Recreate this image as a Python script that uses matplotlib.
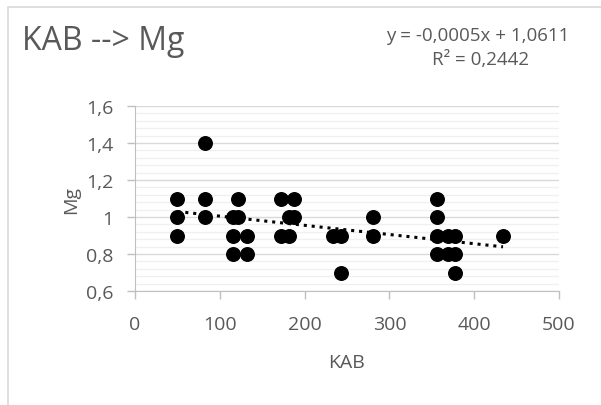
import numpy as np
import matplotlib.pyplot as plt
from matplotlib.patches import Rectangle
from matplotlib.ticker import MultipleLocator, FuncFormatter

# KAB (x) og Mg (y)
kab = [50, 50, 50, 83, 83, 83, 116, 121, 121, 116, 116, 132, 132,
       172, 172, 187, 187, 182, 182, 234, 243, 243, 281, 281,
       356, 356, 356, 356, 369, 369, 377, 377, 377, 434]
mg = [1.1, 1.0, 0.9, 1.4, 1.1, 1.0, 1.0, 1.1, 1.0, 0.9, 0.8, 0.9, 0.8,
      1.1, 0.9, 1.1, 1.0, 1.0, 0.9, 0.9, 0.9, 0.7, 1.0, 0.9,
      1.1, 1.0, 0.9, 0.8, 0.9, 0.8, 0.9, 0.8, 0.7, 0.9]
xticks = [0, 100, 200, 300, 400, 500]
yticks = [0.6, 0.8, 1.0, 1.2, 1.4, 1.6]

grey = '#595959'
plt.rcParams['font.family'] = ['Open Sans', 'DejaVu Sans']

fig = plt.figure(figsize=(6.01, 4.06), dpi=100)
ax = fig.add_axes([135/601, 1 - 292/406, 424/601, 185/406])

# ramme rundt diagrammet
fig.patches.append(Rectangle((8/601, -0.05), 1.1, 1.05 - 8/406,
                             transform=fig.transFigure, fill=False,
                             edgecolor='#d9d9d9', linewidth=1.2))

ax.scatter(kab, mg, s=95, color='black', zorder=3)

# lineær trendlinje
a, b = np.polyfit(kab, mg, 1)
xt = np.array([min(kab), max(kab)])
ax.plot(xt, a * xt + b, color='black', linestyle=(0, (1, 1.6)),
        linewidth=2.2, zorder=2)

ax.set_xlim(0, 500)
ax.set_ylim(0.6, 1.6)
ax.set_xticks(xticks)
ax.set_yticks(yticks)
ax.yaxis.set_minor_locator(MultipleLocator(0.04))
ax.yaxis.set_major_formatter(FuncFormatter(lambda v, p: f'{v:g}'.replace('.', ',')))
ax.grid(which='major', axis='y', color='#d9d9d9', linewidth=1)
ax.grid(which='minor', axis='y', color='#f0f0f0', linewidth=1)
ax.set_axisbelow(True)
ax.tick_params(which='minor', length=0)
ax.tick_params(which='major', color='#bfbfbf', length=5.5, width=1,
               labelsize=14, labelcolor=grey)
ax.tick_params(axis='x', pad=12)
ax.tick_params(axis='y', pad=10)
for s in ['top', 'right']:
    ax.spines[s].set_visible(False)
for s in ['left', 'bottom']:
    ax.spines[s].set_color('#bfbfbf')
ax.set_xlabel('KAB', fontsize=14, color=grey, labelpad=14)
ax.set_ylabel('Mg', fontsize=14, color=grey, labelpad=4)

fig.text(22/601, 1 - 42/406, 'KAB --> Mg', fontsize=23, color=grey,
         va='center', ha='left')
fig.text(478/601, 1 - 36/406, 'y = -0,0005x + 1,0611', fontsize=13.5,
         color=grey, ha='center', va='center')
fig.text(480/601, 1 - 60/406, 'R² = 0,2442', fontsize=13.5,
         color=grey, ha='center', va='center')

fig.savefig('out.png', dpi=100)
